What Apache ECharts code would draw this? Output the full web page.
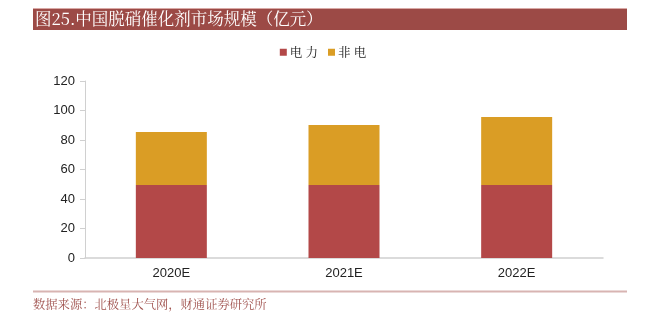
<!DOCTYPE html>
<html><head><meta charset="utf-8">
<script src="https://cdn.jsdelivr.net/npm/echarts@6/dist/echarts.min.js"></script>
<style>html,body{margin:0;padding:0;background:#fff}#c{width:646px;height:323px}</style>
</head><body><div id="c"></div>
<script>
var categories = ['2020E', '2021E', '2022E'];
var power = [49.5, 49.5, 49.5];
var nonPower = [35.9, 40.7, 46.1];
var yTicks = [0, 20, 40, 60, 80, 100, 120];
var seriesNames = ['电力', '非电'];
var titleText = '图25.中国脱硝催化剂市场规模（亿元）';
var sourceText = '数据来源：北极星大气网，财通证券研究所';

var chart = echarts.init(document.getElementById('c'));
var cjk = '"Noto Serif CJK SC","Noto Sans CJK SC",serif';
chart.setOption({
  animation: false,
  graphic: [
    {type: 'rect', shape: {x: 33, y: 8, width: 594, height: 22}, style: {fill: '#9C4A46'}},
    {type: 'line', shape: {x1: 33, y1: 8.5, x2: 627, y2: 8.5}, style: {stroke: '#D9A9A6', lineWidth: 1}},
    {type: 'text', left: 35, top: 10, style: {text: titleText, fill: '#fff', font: '16.5px ' + cjk}},
    {type: 'line', shape: {x1: 33, y1: 291.5, x2: 627, y2: 291.5}, style: {stroke: '#D8B4B2', lineWidth: 2}},
    {type: 'text', left: 33, top: 298, style: {text: sourceText, fill: '#A0524E', font: '12.3px ' + cjk}}
  ],
  legend: {
    top: 41, left: 'center',
    itemWidth: 7, itemHeight: 7, itemGap: 10,
    icon: 'rect',
    formatter: function (n) { return n.split('').join(' '); },
    textStyle: {fontFamily: cjk, fontSize: 12.5, color: '#222', padding: [0, 0, 0, -2]},
    data: seriesNames
  },
  grid: {left: 85, right: 43, top: 81, bottom: 65},
  xAxis: {
    type: 'category', data: categories,
    axisLine: {lineStyle: {color: '#D0D0D0', width: 1.5}},
    axisTick: {show: false},
    axisLabel: {color: '#222', fontSize: 13, fontFamily: 'Liberation Sans, Arial', margin: 9}
  },
  yAxis: {
    type: 'value', min: 0, max: 120, interval: 20,
    axisLine: {show: true, lineStyle: {color: '#D0D0D0'}},
    axisTick: {show: true, length: 5, lineStyle: {color: '#D0D0D0'}},
    splitLine: {show: false},
    axisLabel: {color: '#222', fontSize: 13, fontFamily: 'Liberation Sans, Arial', margin: 10,
      formatter: function (v) { return yTicks.indexOf(v) >= 0 ? String(v) : ''; }}
  },
  series: [
    {name: seriesNames[0], type: 'bar', stack: 'a', data: power, barWidth: 71,
      itemStyle: {color: '#B34848'}},
    {name: seriesNames[1], type: 'bar', stack: 'a', data: nonPower, barWidth: 71,
      itemStyle: {color: '#DA9D25'}}
  ]
});
</script></body></html>
